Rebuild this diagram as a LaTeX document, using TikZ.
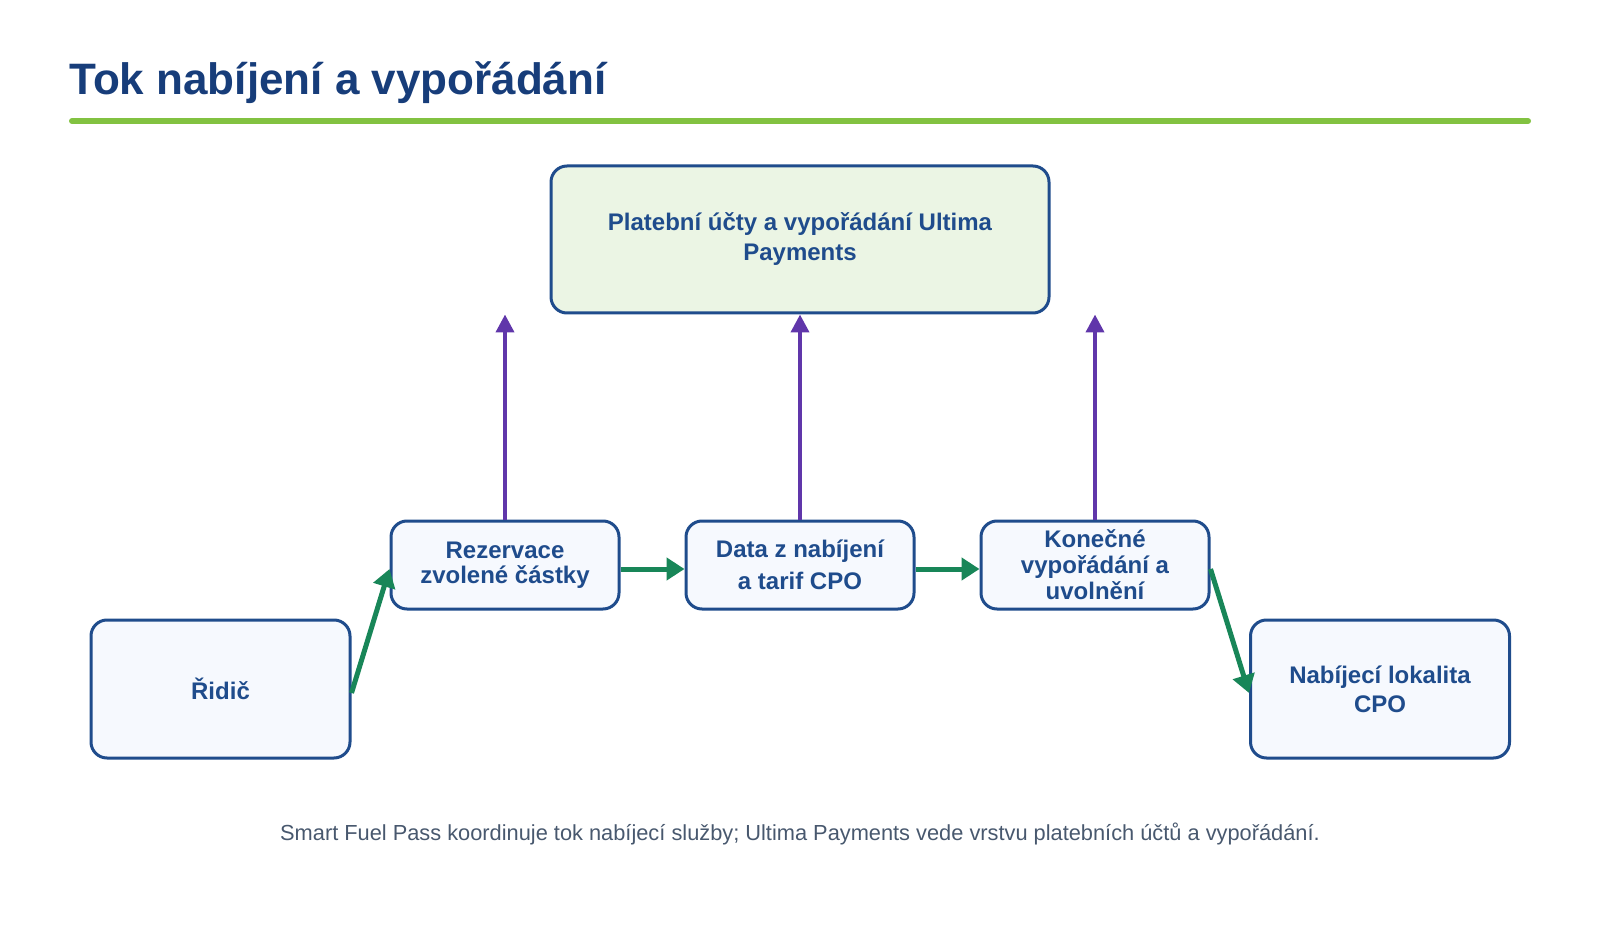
\documentclass[tikz,border=0pt]{standalone}
\usepackage{fontspec}
\setmainfont{Liberation Sans}
\usepackage{tikz}
\usetikzlibrary{arrows.meta}

\definecolor{titleblue}{RGB}{23,61,122}
\definecolor{boxblue}{RGB}{31,76,140}
\definecolor{barline}{RGB}{130,194,65}
\definecolor{boxfill}{RGB}{246,249,254}
\definecolor{payfill}{RGB}{235,245,228}
\definecolor{flowgreen}{RGB}{24,134,88}
\definecolor{paypurple}{RGB}{96,54,170}
\definecolor{notegray}{RGB}{72,88,110}

\tikzset{
	stepbox/.style={draw=boxblue, line width=1.5pt, rounded corners=8pt, fill=boxfill,
		text=boxblue, font=\bfseries\fontsize{12}{12.5}\selectfont, align=center,
		minimum width=114pt, minimum height=44pt, inner sep=2pt},
	endbox/.style={stepbox, minimum width=129.5pt, minimum height=69pt,
		font=\bfseries\fontsize{12}{14.5}\selectfont},
	flow/.style={draw=flowgreen, line width=2.5pt, -{Triangle[length=9pt,width=11pt]}},
	payflow/.style={draw=paypurple, line width=2pt, -{Triangle[length=9pt,width=9pt]}}
}

\begin{document}
\begin{tikzpicture}[x=0.5pt,y=-0.5pt]
	\useasboundingbox (0,0) rectangle (1600,930);
	% Title and bar
	\node[anchor=base west, inner sep=0pt, text=titleblue, font=\bfseries\fontsize{22}{26}\selectfont] (title) at (69,95) {Tok nabíjení a vypořádání};
	\draw[barline, line width=3pt, line cap=round] (72,121) -- (1528,121);
	% Payment layer
	\node[stepbox, fill=payfill, minimum width=249pt, minimum height=73.5pt,
		font=\bfseries\fontsize{12}{15}\selectfont] (pay) at (800,239.5) {Platební účty a vypořádání Ultima\\Payments};
	% Service flow
	\node[endbox] (ridic) at (220.5,689) {Řidič};
	\node[stepbox] (rez) at (505,565) {Rezervace\\zvolené částky};
	\node[stepbox, font=\bfseries\fontsize{12}{16}\selectfont] (data) at (800,565) {Data z nabíjení\\a tarif CPO};
	\node[stepbox, font=\bfseries\fontsize{12}{13}\selectfont] (fin) at (1095,565) {Konečné\\vypořádání a\\uvolnění};
	\node[endbox] (cpo) at (1380,689) {Nabíjecí lokalita\\CPO};
	% Connectors
	\foreach \a/\b in {ridic/rez, rez/data, data/fin, fin/cpo}
		\draw[flow] ([yshift=-2pt]\a.east) -- ([yshift=-2pt]\b.west);
	\foreach \n in {rez,data,fin}
		\draw[payflow] (\n.north) -- (\n.north |- pay.south);
	% Note
	\node[text=notegray, font=\fontsize{10.9}{13}\selectfont] (note) at (800,834) {Smart Fuel Pass koordinuje tok nabíjecí služby; Ultima Payments vede vrstvu platebních účtů a vypořádání.};
\end{tikzpicture}
\end{document}
